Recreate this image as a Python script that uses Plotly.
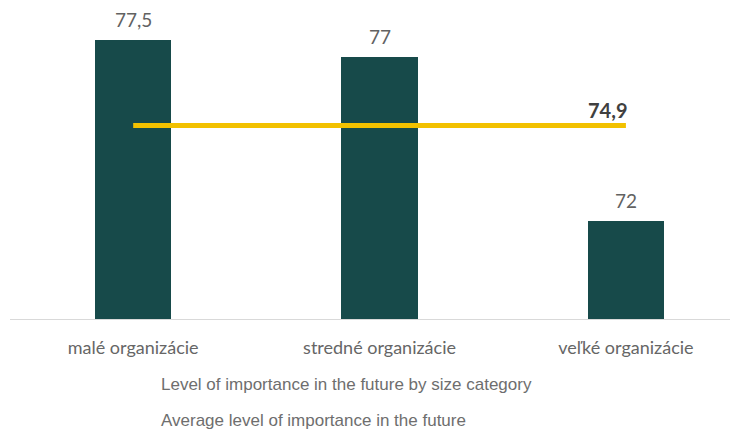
import plotly.graph_objects as go

# data
categories = ["malé organizácie", "stredné organizácie", "veľké organizácie"]
importance_by_size = [77.5, 77.0, 72.0]
average_importance = 74.9

bar_name = "Level of importance in the future by size category"
line_name = "Average level of importance in the future"

LABEL_FONT = "Lato, Open Sans, sans-serif"


def _sk(v):
    """Slovak-style number label (decimal comma, drop trailing .0)."""
    return f"{v:g}".replace(".", ",")


fig = go.Figure()

fig.add_trace(
    go.Bar(
        x=categories,
        y=importance_by_size,
        name=bar_name,
        marker=dict(color="#174A4A", line=dict(width=0)),
        width=0.31,
        showlegend=False,
    )
)

fig.add_trace(
    go.Scatter(
        x=[categories[0], categories[-1]],
        y=[average_importance, average_importance],
        name=line_name,
        mode="lines",
        line=dict(color="#F2C100", width=5),
        showlegend=False,
    )
)

# value labels above bars
for cat, val in zip(categories, importance_by_size):
    fig.add_annotation(
        x=cat,
        y=val,
        text=_sk(val),
        showarrow=False,
        yanchor="bottom",
        yshift=7,
        font=dict(family=LABEL_FONT, size=19, color="#626262"),
    )

fig.add_annotation(
    x=categories[-1],
    y=average_importance,
    text=f"<b>{_sk(average_importance)}</b>",
    showarrow=False,
    xanchor="right",
    yanchor="bottom",
    xshift=3,
    yshift=1,
    font=dict(family=LABEL_FONT, size=20, color="#404040"),
)

# legend drawn as plain text, as in the reference (no swatches)
for i, label in enumerate([bar_name, line_name]):
    fig.add_annotation(
        xref="paper",
        yref="paper",
        x=(162 - 10) / 728,
        y=-(384 - 319 + 36 * i) / 309,
        text=label,
        showarrow=False,
        xanchor="left",
        yanchor="middle",
        xshift=-3,
        font=dict(family="Liberation Sans, Arial, sans-serif", size=17, color="#6E6E6E"),
    )

# page body has an 8px margin, so the figure is 8px smaller and shifted
fig.update_layout(
    width=730,
    height=422,
    margin=dict(l=2, r=0, t=2, b=111),
    plot_bgcolor="white",
    paper_bgcolor="white",
    bargap=0,
    xaxis=dict(
        range=[-0.5, 2.455],
        showline=True,
        linecolor="#D9D9D9",
        linewidth=1,
        ticks="",
        showgrid=False,
        ticklabelstandoff=12,
        tickfont=dict(family=LABEL_FONT, size=18, color="#666666"),
    ),
    yaxis=dict(
        range=[69, 78.42],
        visible=False,
        showgrid=False,
        zeroline=False,
    ),
)

fig.write_html("out.html")
